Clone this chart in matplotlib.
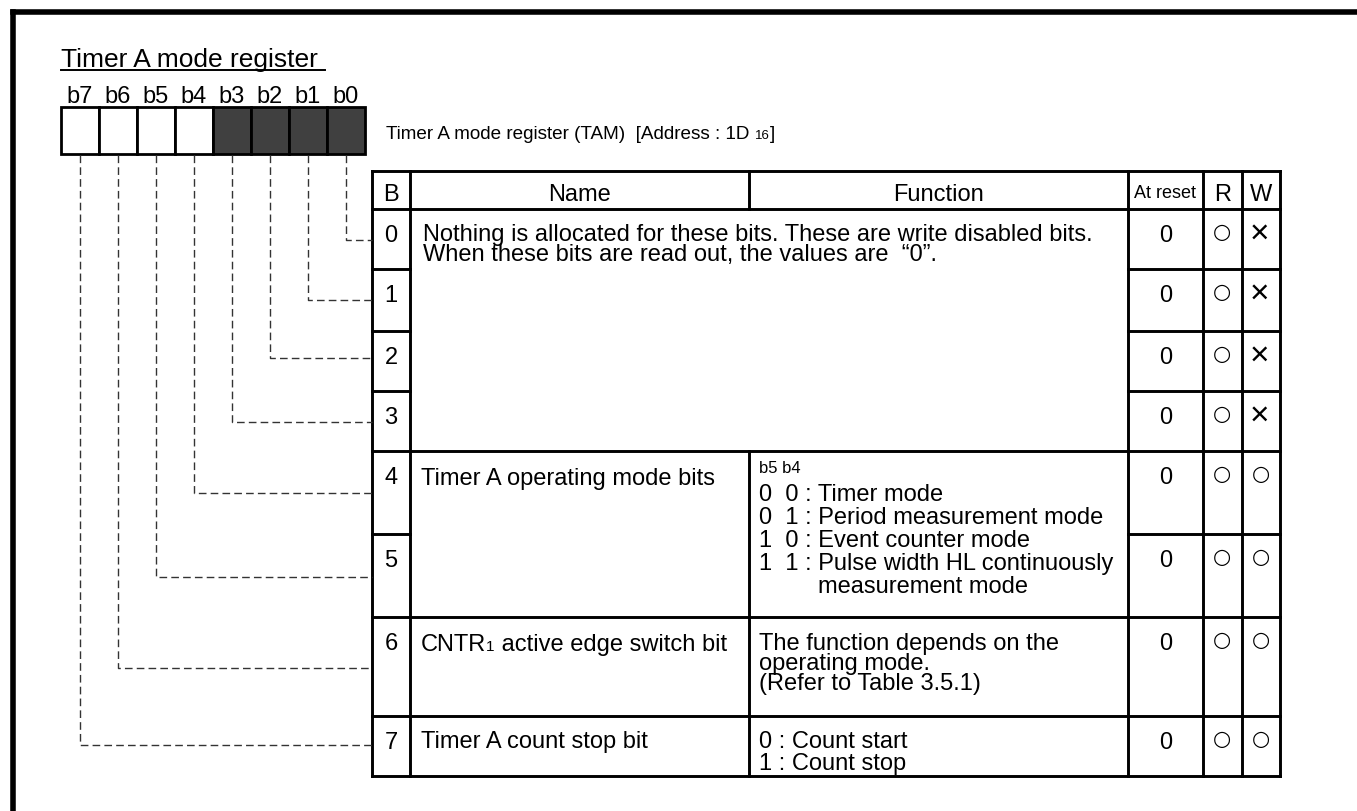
import matplotlib
matplotlib.use("Agg")
import matplotlib.pyplot as plt
from matplotlib.patches import Rectangle

# ---------------- data ----------------
title = "Timer A mode register"
register_label = "Timer A mode register (TAM)  [Address : 1D "
address_sub = "16"
bit_labels = ["b7", "b6", "b5", "b4", "b3", "b2", "b1", "b0"]
bit_unused = [False, False, False, False, True, True, True, True]
header = ["B", "Name", "Function", "At reset", "R", "W"]
bit_numbers = ["0", "1", "2", "3", "4", "5", "6", "7"]
reset_values = ["0", "0", "0", "0", "0", "0", "0", "0"]
read_marks = ["\u25cb"] * 8
write_marks = ["\u00d7", "\u00d7", "\u00d7", "\u00d7", "\u25cb", "\u25cb", "\u25cb", "\u25cb"]
unused_text = ["Nothing is allocated for these bits. These are write disabled bits.",
               "When these bits are read out, the values are  \u201c0\u201d."]
mode_name = "Timer A operating mode bits"
mode_head = "b5 b4"
mode_funcs = ["0  0 : Timer mode", "0  1 : Period measurement mode",
              "1  0 : Event counter mode", "1  1 : Pulse width HL continuously",
              "measurement mode"]
edge_name = ["CNTR", "1", " active edge switch bit"]
edge_func = ["The function depends on the", "operating mode.", "(Refer to Table 3.5.1)"]
stop_name = "Timer A count stop bit"
stop_func = ["0 : Count start", "1 : Count stop"]

# ---------------- layout (pixels) ----------------
W, H = 1357, 812
FONT = ["Liberation Sans", "DejaVu Sans"]
MAIN = 17
fig = plt.figure(figsize=(W / 100, H / 100), dpi=100)
ax = fig.add_axes([0, 0, 1, 1])
ax.set_xlim(0, W)
ax.set_ylim(H, 0)
ax.axis("off")


def em(size):
    return size * 100 / 72


def put(x, yc, s, size=MAIN, ha="left", family=FONT):
    """place text so that cap-height centre is at yc"""
    return ax.text(x, yc + 0.358 * em(size), s, fontsize=size, ha=ha, va="baseline",
                   family=family, color="black")


def line(xs, ys, lw=2.1, **kw):
    ax.plot(xs, ys, color="black", lw=lw, solid_capstyle="projecting", **kw)


def subscripted(x, yc, parts, size, subsize):
    """base text + small subscript + rest, all on one baseline"""
    base = yc + 0.358 * em(size)
    a = put(x, yc, parts[0], size=size)
    b = ax.annotate(parts[1], xy=(1, base), xycoords=(a, "data"), fontsize=subsize,
                    family=FONT, ha="left", va="baseline")
    ax.annotate(parts[2], xy=(1, base), xycoords=(b, "data"), fontsize=size,
                family=FONT, ha="left", va="baseline")


# outer frame (left and top)
line([13, 13], [H + 5, 12.5], lw=4)
line([13, W + 5], [12.5, 12.5], lw=4)

# title with underline
ax.text(61, 67, title, fontsize=19, family=FONT, va="baseline", ha="left")
line([61, 325], [71, 71], lw=1.4)

# bit boxes
BX0, BW, BY0, BH = 61, 38, 108, 47
for i, (lab, unused) in enumerate(zip(bit_labels, bit_unused)):
    ax.add_patch(Rectangle((BX0 + i * BW, BY0), BW, BH,
                           facecolor="#404040" if unused else "white",
                           edgecolor="black", lw=2.0))
    put(BX0 + i * BW + BW / 2, 95, lab, size=17, ha="center")

# register description text with small subscript
subscripted(386, 132, [register_label, address_sub, "]"], 13.6, 9.5)

# ---------------- table ----------------
XL, XB, XN, XF, XRST, XR, XW = 372, 410, 749, 1128, 1203, 1242, 1280
row_top = [210, 270, 332, 392, 452, 535, 618, 717]
TOP = 172
BOT = 777

# verticals
for x in (XL, XB, XF, XRST, XR, XW):
    line([x, x], [TOP, BOT])
line([XN, XN], [TOP, 210])
line([XN, XN], [452, BOT])
# horizontals full width
for y in (TOP, 210, 452, 618, 717, BOT):
    line([XL, XW], [y, y])
# partial horizontals (B column and reset/R/W columns)
for y in (270, 332, 392, 535):
    line([XL, XB], [y, y])
    line([XF, XW], [y, y])

# header texts
hc = 193
put((XL + XB) / 2, hc, header[0], ha="center")
put((XB + XN) / 2, hc, header[1], ha="center")
put((XN + XF) / 2, hc, header[2], ha="center")
put((XF + XRST) / 2, hc - 1, header[3], size=13, ha="center")
put((XRST + XR) / 2, hc, header[4], ha="center")
put((XR + XW) / 2, hc, header[5], ha="center")

# per-row columns: B, At reset, R, W
for i in range(8):
    yc = row_top[i] + 24
    put((XL + XB) / 2, yc, bit_numbers[i], ha="center")
    put((XF + XRST) / 2, yc, reset_values[i], ha="center")
    ax.text((XRST + XR) / 2, row_top[i] + 22, read_marks[i], fontsize=15,
            family=["DejaVu Sans"], ha="center", va="center")
    if write_marks[i] == "\u25cb":
        ax.text((XR + XW) / 2, row_top[i] + 22, write_marks[i], fontsize=15,
                family=["DejaVu Sans"], ha="center", va="center")
    else:
        ax.text((XR + XW) / 2 - 2, row_top[i] + 24, write_marks[i], fontsize=24,
                family=FONT, ha="center", va="center")

# rows 0-3 merged description
put(423, 233, unused_text[0])
put(423, 253, unused_text[1])

# rows 4-5
put(421, 477, mode_name)
put(759, 467, mode_head, size=12)
fy = [493, 516, 539, 562, 585]
for k, s in enumerate(mode_funcs):
    put(818 if k == 4 else 759, fy[k], s)

# row 6
subscripted(421, 643, edge_name, MAIN, 11)
for k, s in enumerate(edge_func):
    put(759, 642 + 20 * k, s)

# row 7
put(421, 740, stop_name)
put(759, 740, stop_func[0])
put(759, 762, stop_func[1])

# dashed leader lines from bit boxes to table rows
leader_y = [746, 669, 578, 494, 423, 359, 301, 241]  # b7 .. b0
for i, y in enumerate(leader_y):
    x = BX0 + i * BW + BW / 2
    ax.plot([x, x, XL], [BY0 + BH + 1, y, y], color="#333333", lw=1.0,
            linestyle=(0, (5.5, 3)))

fig.savefig("out.png", dpi=100)
